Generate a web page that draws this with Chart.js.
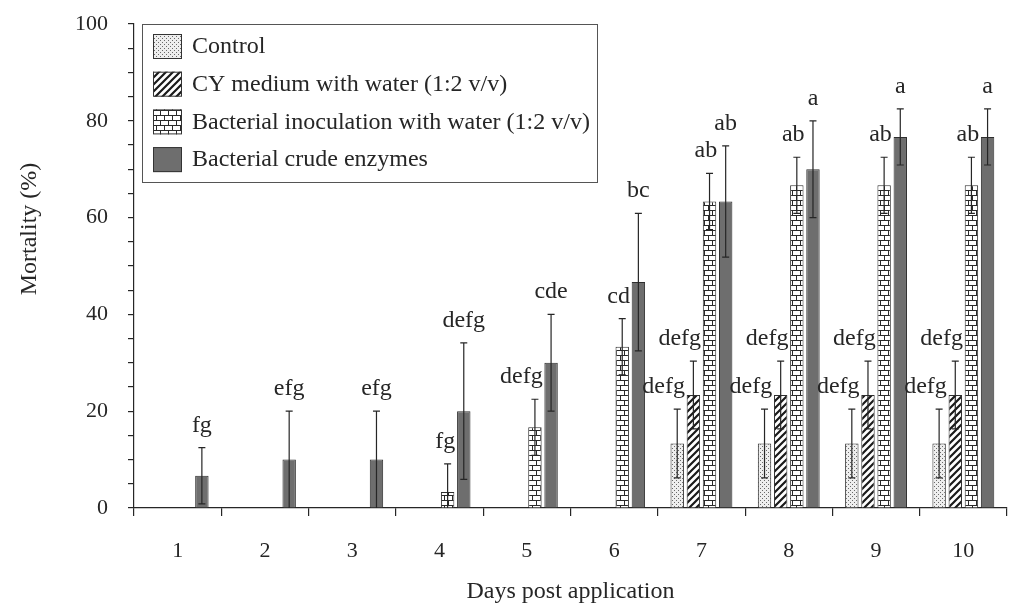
<!DOCTYPE html>
<html>
<head>
<meta charset="utf-8">
<script src="https://cdn.jsdelivr.net/npm/chart.js@4.4.0/dist/chart.umd.min.js"></script>
<style>
  html, body { margin: 0; padding: 0; background: #fff; }
</style>
</head>
<body>
<canvas id="chart" width="1011" height="608"></canvas>
<script>
// data
const days = ['1', '2', '3', '4', '5', '6', '7', '8', '9', '10'];
const seriesNames = [
  'Control',
  'CY medium with water (1:2 v/v)',
  'Bacterial inoculation with water (1:2 v/v)',
  'Bacterial crude enzymes'
];

const controlMean = [null, null, null, null, null, null, 13.33, 13.33, 13.33, 13.33];
const controlErr = [0, 0, 0, 0, 0, 0, 7.1, 7.1, 7.1, 7.1];
const controlLetters = ['', '', '', '', '', '', 'defg', 'defg', 'defg', 'defg'];

const cyMean = [null, null, null, null, null, null, 23.33, 23.33, 23.33, 23.33];
const cyErr = [0, 0, 0, 0, 0, 0, 7.0, 7.0, 7.0, 7.0];
const cyLetters = ['', '', '', '', '', '', 'defg', 'defg', 'defg', 'defg'];

const inocMean = [null, null, null, 3.33, 16.67, 33.33, 63.33, 66.67, 66.67, 66.67];
const inocErr = [0, 0, 0, 5.8, 5.8, 5.8, 5.8, 5.8, 5.8, 5.8];
const inocLetters = ['', '', '', 'fg', 'defg', 'cd', 'ab', 'ab', 'ab', 'ab'];

const enzMean = [6.67, 10, 10, 20, 30, 46.67, 63.33, 70, 76.67, 76.67];
const enzErr = [5.8, 10, 10, 14.1, 10, 14.2, 11.5, 10, 5.8, 5.8];
const enzLetters = ['fg', 'efg', 'efg', 'defg', 'cde', 'bc', 'ab', 'a', 'a', 'a'];

const yTicks = [0, 20, 40, 60, 80, 100];

const SERIF = "'Liberation Serif', 'Times New Roman', serif";
const INK = '#262626';

function makePattern(kind) {
  var c = document.createElement('canvas');
  var ctx = c.getContext('2d');
  if (kind == 'dots') {
    c.width = 4; c.height = 4;
    ctx.fillStyle = '#eeeeee';
    ctx.fillRect(0, 0, 4, 4);
    ctx.fillStyle = '#6a6a6a';
    ctx.fillRect(0, 0, 1, 1);
    ctx.fillRect(2, 2, 1, 1);
  } else if (kind == 'hatch') {
    c.width = 7; c.height = 7;
    ctx.fillStyle = '#ffffff';
    ctx.fillRect(0, 0, 7, 7);
    ctx.strokeStyle = '#1a1a1a';
    ctx.lineWidth = 2.2;
    ctx.beginPath();
    ctx.moveTo(-1, 8); ctx.lineTo(8, -1);
    ctx.moveTo(-4, 4); ctx.lineTo(4, -4);
    ctx.moveTo(3, 11); ctx.lineTo(11, 3);
    ctx.stroke();
  } else if (kind == 'brick') {
    c.width = 8; c.height = 10;
    ctx.fillStyle = '#ffffff';
    ctx.fillRect(0, 0, 8, 10);
    ctx.fillStyle = '#2a2a2a';
    ctx.fillRect(0, 0, 8, 1);
    ctx.fillRect(0, 5, 8, 1);
    ctx.fillRect(0, 0, 1, 5);
    ctx.fillRect(4, 5, 1, 5);
  }
  return ctx.createPattern(c, 'repeat');
}

const fills = [makePattern('dots'), makePattern('hatch'), makePattern('brick'), '#6e6e6e'];

// error bars + significance letters
const errorBarPlugin = {
  id: 'errorBars',
  afterDatasetsDraw(chart) {
    const ctx = chart.ctx;
    const y = chart.scales.y;
    ctx.save();
    chart.data.datasets.forEach((ds, i) => {
      const meta = chart.getDatasetMeta(i);
      meta.data.forEach((bar, j) => {
        const v = ds.data[j];
        if (v == null) return;
        const e = ds.errors[j];
        const top = y.getPixelForValue(v + e);
        const low = v - e;
        const bot = y.getPixelForValue(Math.max(low, 0));
        ctx.strokeStyle = INK;
        ctx.lineWidth = 1.2;
        ctx.beginPath();
        ctx.moveTo(bar.x, bot); ctx.lineTo(bar.x, top);
        ctx.moveTo(bar.x - 3.5, top); ctx.lineTo(bar.x + 3.5, top);
        if (low > 0) {
          ctx.moveTo(bar.x - 3.5, bot); ctx.lineTo(bar.x + 3.5, bot);
        }
        ctx.stroke();

        const txt = ds.letters[j];
        if (!txt) return;
        ctx.fillStyle = INK;
        ctx.font = '24px ' + SERIF;
        ctx.textBaseline = 'alphabetic';
        if (i == 3) {
          ctx.textAlign = 'center';
          ctx.fillText(txt, bar.x, top - 16);
        } else {
          ctx.textAlign = 'right';
          ctx.fillText(txt, bar.x + bar.width / 2 + 1, top - 16);
        }
      });
    });
    ctx.restore();
  }
};

// boxed legend in the upper left, plus rotated y title
const legendBoxPlugin = {
  id: 'legendBox',
  afterDraw(chart) {
    const ctx = chart.ctx;
    const area = chart.chartArea;
    const left = area.left + 8;
    const top = area.top;
    ctx.save();
    ctx.fillStyle = '#ffffff';
    ctx.fillRect(left, top, 455, 158);
    ctx.strokeStyle = '#555';
    ctx.lineWidth = 1;
    ctx.strokeRect(left + 0.5, top + 0.5, 455, 158);
    chart.data.datasets.forEach((ds, i) => {
      const cy = top + 22 + i * 37.7;
      ctx.fillStyle = ds.backgroundColor;
      ctx.fillRect(left + 11, cy - 12, 29, 25);
      ctx.strokeStyle = '#333';
      ctx.strokeRect(left + 11.5, cy - 11.5, 28, 24);
      ctx.fillStyle = INK;
      ctx.font = '24px ' + SERIF;
      ctx.textAlign = 'left';
      ctx.textBaseline = 'middle';
      ctx.fillText(ds.label, left + 50, cy + 1);
    });

    ctx.translate(30, 229);
    ctx.rotate(-Math.PI / 2);
    ctx.font = '24px ' + SERIF;
    ctx.textAlign = 'center';
    ctx.textBaseline = 'middle';
    ctx.fillText('Mortality (%)', 0, 0);
    ctx.restore();
  }
};

const means = [controlMean, cyMean, inocMean, enzMean];
const errs = [controlErr, cyErr, inocErr, enzErr];
const letters = [controlLetters, cyLetters, inocLetters, enzLetters];

var datasets = seriesNames.map((name, i) => ({
  label: name,
  data: means[i],
  errors: errs[i],
  letters: letters[i],
  backgroundColor: fills[i],
  borderColor: '#2e2e2e',
  borderWidth: 1,
  categoryPercentage: 0.74,
  barPercentage: 0.83
}));

new Chart(document.getElementById('chart'), {
  type: 'bar',
  data: { labels: days, datasets: datasets },
  options: {
    responsive: false,
    animation: false,
    devicePixelRatio: 1,
    layout: { padding: { left: 0, right: 4, top: 24, bottom: 0 } },
    plugins: {
      legend: { display: false },
      tooltip: { enabled: false }
    },
    scales: {
      x: {
        offset: true,
        grid: { display: true, drawOnChartArea: false, offset: true, tickLength: 8, color: INK, lineWidth: 1.2 },
        border: { display: true, color: INK, width: 1.2 },
        ticks: { color: INK, font: { family: SERIF, size: 22 }, padding: 22, maxRotation: 0 },
        title: { display: true, text: 'Days post application', color: INK, font: { family: SERIF, size: 24 }, padding: { top: 0, bottom: 2 } },
        afterFit: (scale) => { scale.height = 100; }
      },
      y: {
        min: 0,
        max: 100,
        grid: { display: true, drawOnChartArea: false, tickLength: 6, color: INK, lineWidth: 1.2 },
        border: { display: true, color: INK, width: 1.2 },
        ticks: {
          stepSize: 5,
          autoSkip: false,
          color: INK,
          padding: 20,
          font: { family: SERIF, size: 22 },
          callback: (v) => yTicks.includes(v) ? String(v) : ''
        },
        afterFit: (scale) => {
          scale.width = 134;
          scale.paddingTop = 0;
          scale.paddingBottom = 0;
        }
      }
    }
  },
  plugins: [errorBarPlugin, legendBoxPlugin]
});
</script>
</body>
</html>
